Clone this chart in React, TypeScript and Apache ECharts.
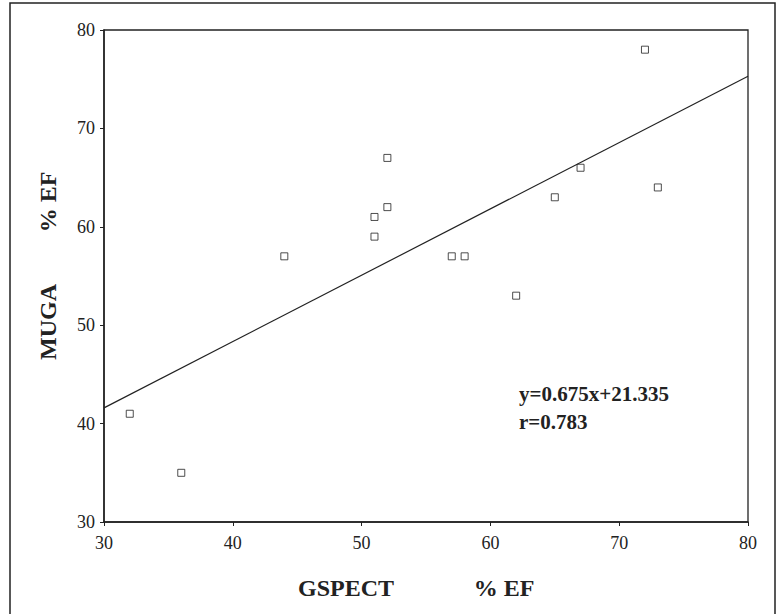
import React, { useEffect, useRef } from "react";
import * as echarts from "echarts";

const gspect = [32, 36, 44, 51, 51, 52, 52, 57, 58, 62, 65, 67, 72, 73];
const muga = [41, 35, 57, 61, 59, 67, 62, 57, 57, 53, 63, 66, 78, 64];
const fitX = [30, 80];
const fitY = [41.6, 75.3];
const xTicks = [30, 40, 50, 60, 70, 80];
const yTicks = [30, 40, 50, 60, 70, 80];
const equationText = "y=0.675x+21.335";
const rText = "r=0.783";

const FONT = "'Liberation Serif', 'DejaVu Serif', serif";
const INK = "#222";

export default function App() {
  const ref = useRef<HTMLDivElement>(null);
  useEffect(() => {
    if (!ref.current) return;
    const chart = echarts.init(ref.current, null, { renderer: "svg" });
    const points = gspect.map((x, i) => [x, muga[i]]);
    const fit = fitX.map((x, i) => [x, fitY[i]]);
    chart.setOption({
      animation: false,
      backgroundColor: "#fff",
      grid: {
        left: 104,
        right: 36,
        top: 30,
        bottom: 92,
        show: true,
        borderColor: INK,
        borderWidth: 1.3,
        backgroundColor: "transparent",
      },
      xAxis: {
        type: "value",
        min: xTicks[0],
        max: xTicks[xTicks.length - 1],
        interval: 10,
        axisLine: { show: true, lineStyle: { color: INK, width: 1.5 } },
        axisTick: { show: true, length: 4, lineStyle: { color: INK } },
        splitLine: { show: false },
        axisLabel: { color: INK, fontFamily: FONT, fontSize: 18, margin: 12 },
      },
      yAxis: {
        type: "value",
        min: yTicks[0],
        max: yTicks[yTicks.length - 1],
        interval: 10,
        axisLine: { show: true, lineStyle: { color: INK, width: 1.5 } },
        axisTick: { show: true, length: 4, lineStyle: { color: INK } },
        splitLine: { show: false },
        axisLabel: { color: INK, fontFamily: FONT, fontSize: 18, margin: 9 },
      },
      series: [
        {
          type: "line",
          data: fit,
          showSymbol: false,
          symbol: "none",
          lineStyle: { color: INK, width: 1.2 },
          silent: true,
        },
        {
          type: "scatter",
          data: points,
          symbol: "rect",
          symbolSize: 7,
          itemStyle: { color: "#fff", borderColor: INK, borderWidth: 1 },
        },
      ],
      graphic: [
        {
          type: "rect",
          shape: { x: 10, y: 3, width: 765, height: 640 },
          style: { fill: "transparent", stroke: INK, lineWidth: 1.5 },
          silent: true,
        },
        {
          type: "text",
          x: 48,
          y: 322,
          rotation: Math.PI / 2,
          style: {
            text: "MUGA",
            font: `bold 24px ${FONT}`,
            fill: INK,
            textAlign: "center",
            textVerticalAlign: "middle",
          },
        },
        {
          type: "text",
          x: 48,
          y: 202,
          rotation: Math.PI / 2,
          style: {
            text: "% EF",
            font: `bold 24px ${FONT}`,
            fill: INK,
            textAlign: "center",
            textVerticalAlign: "middle",
          },
        },
        {
          type: "text",
          x: 346,
          y: 588,
          style: {
            text: "GSPECT",
            font: `bold 24px ${FONT}`,
            fill: INK,
            textAlign: "center",
            textVerticalAlign: "middle",
          },
        },
        {
          type: "text",
          x: 504,
          y: 588,
          style: {
            text: "% EF",
            font: `bold 24px ${FONT}`,
            fill: INK,
            textAlign: "center",
            textVerticalAlign: "middle",
          },
        },
        {
          type: "text",
          x: 519,
          y: 394,
          style: {
            text: equationText,
            font: `bold 21px ${FONT}`,
            fill: INK,
            textAlign: "left",
            textVerticalAlign: "middle",
          },
        },
        {
          type: "text",
          x: 519,
          y: 422,
          style: {
            text: rText,
            font: `bold 21px ${FONT}`,
            fill: INK,
            textAlign: "left",
            textVerticalAlign: "middle",
          },
        },
      ],
    });
    return () => chart.dispose();
  }, []);
  return (
    <div
      ref={ref}
      style={{ position: "fixed", left: 0, top: 0, width: 784, height: 614 }}
    />
  );
}
